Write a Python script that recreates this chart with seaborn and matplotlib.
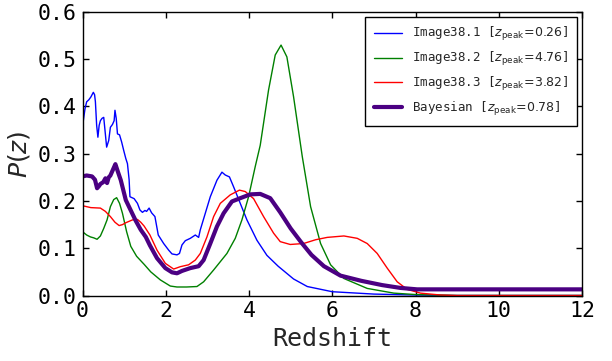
import numpy as np
import pandas as pd
import matplotlib
matplotlib.use("Agg")
import matplotlib.pyplot as plt
import seaborn as sns

# ---- data ----
z_blue = [0.00, 0.02, 0.06, 0.10, 0.15, 0.20, 0.26, 0.29, 0.31, 0.34, 0.37, 0.40, 0.43, 0.47,
          0.51, 0.54, 0.58, 0.63, 0.67, 0.72, 0.76, 0.78, 0.81, 0.84, 0.89, 0.94, 0.99, 1.04,
          1.08, 1.12, 1.14, 1.24, 1.32, 1.38, 1.44, 1.50, 1.54, 1.60, 1.66, 1.74, 1.82, 1.95,
          2.07, 2.15, 2.27, 2.33, 2.39, 2.47, 2.59, 2.71, 2.79, 2.83, 2.95, 3.07, 3.23, 3.35,
          3.43, 3.53, 3.63, 3.79, 3.95, 4.19, 4.43, 4.70, 5.07, 5.40, 6.00, 7.00, 8.00, 9.00,
          12.0]
p_blue = [0.365, 0.370, 0.395, 0.410, 0.414, 0.420, 0.430, 0.425, 0.410, 0.360, 0.335, 0.360,
          0.370, 0.375, 0.377, 0.350, 0.314, 0.328, 0.356, 0.362, 0.370, 0.392, 0.375, 0.342,
          0.340, 0.325, 0.307, 0.290, 0.279, 0.245, 0.209, 0.205, 0.195, 0.181, 0.176, 0.180,
          0.178, 0.185, 0.175, 0.167, 0.128, 0.110, 0.096, 0.088, 0.086, 0.089, 0.107, 0.116,
          0.121, 0.128, 0.123, 0.139, 0.174, 0.209, 0.244, 0.261, 0.255, 0.251, 0.230, 0.195,
          0.160, 0.117, 0.085, 0.062, 0.035, 0.019, 0.008, 0.003, 0.001, 0.0, 0.0]

z_green = [0.00, 0.10, 0.19, 0.27, 0.35, 0.43, 0.51, 0.59, 0.67, 0.75, 0.82, 0.89, 0.96, 1.06,
           1.16, 1.30, 1.48, 1.64, 1.87, 2.11, 2.27, 2.50, 2.75, 2.91, 3.15, 3.47, 3.67, 3.83,
           3.99, 4.15, 4.27, 4.47, 4.63, 4.77, 4.91, 5.07, 5.28, 5.48, 5.72, 5.96, 6.28, 6.84,
           7.48, 8.00, 9.00, 12.0]
p_green = [0.135, 0.128, 0.124, 0.122, 0.119, 0.126, 0.142, 0.160, 0.188, 0.203, 0.207, 0.195,
           0.174, 0.135, 0.104, 0.083, 0.066, 0.050, 0.033, 0.020, 0.018, 0.018, 0.019, 0.029,
           0.054, 0.089, 0.121, 0.160, 0.209, 0.273, 0.318, 0.435, 0.509, 0.530, 0.505, 0.421,
           0.294, 0.188, 0.110, 0.065, 0.036, 0.015, 0.005, 0.002, 0.0, 0.0]

z_red = [0.00, 0.20, 0.43, 0.55, 0.67, 0.78, 0.88, 0.96, 1.04, 1.20, 1.32, 1.40, 1.48, 1.62,
         1.79, 1.99, 2.19, 2.35, 2.55, 2.71, 2.83, 2.99, 3.15, 3.31, 3.55, 3.77, 3.91, 4.11,
         4.35, 4.59, 4.75, 4.99, 5.31, 5.60, 5.88, 6.28, 6.60, 6.84, 7.08, 7.32, 7.56, 7.80,
         8.12, 8.60, 9.00, 12.0]
p_red = [0.190, 0.186, 0.185, 0.178, 0.167, 0.155, 0.148, 0.150, 0.154, 0.160, 0.161, 0.155,
         0.147, 0.128, 0.096, 0.068, 0.056, 0.061, 0.065, 0.075, 0.089, 0.124, 0.167, 0.195,
         0.213, 0.223, 0.220, 0.205, 0.167, 0.132, 0.114, 0.108, 0.110, 0.118, 0.123, 0.126,
         0.121, 0.110, 0.089, 0.058, 0.029, 0.013, 0.005, 0.001, 0.0, 0.0]

z_bay = [0.00, 0.10, 0.23, 0.30, 0.35, 0.40, 0.43, 0.50, 0.55, 0.59, 0.63, 0.67, 0.74, 0.79,
         0.85, 0.92, 1.04, 1.16, 1.28, 1.40, 1.52, 1.62, 1.79, 1.99, 2.15, 2.27, 2.39, 2.59,
         2.79, 2.91, 3.07, 3.23, 3.39, 3.59, 3.79, 4.03, 4.27, 4.51, 4.75, 5.00, 5.25, 5.50,
         5.80, 6.20, 6.70, 7.20, 7.64, 8.04, 9.00, 12.0]
p_bay = [0.252, 0.254, 0.252, 0.245, 0.227, 0.232, 0.236, 0.240, 0.248, 0.238, 0.250, 0.254,
         0.268, 0.278, 0.262, 0.244, 0.202, 0.180, 0.158, 0.139, 0.124, 0.106, 0.079, 0.058,
         0.049, 0.047, 0.052, 0.058, 0.062, 0.075, 0.110, 0.146, 0.174, 0.199, 0.206, 0.214,
         0.215, 0.206, 0.176, 0.142, 0.113, 0.086, 0.062, 0.042, 0.031, 0.022, 0.016, 0.013,
         0.013, 0.013]

labels = [r"Image38.1 [$z_{\rm peak}\!=\!0.26$]",
          r"Image38.2 [$z_{\rm peak}\!=\!4.76$]",
          r"Image38.3 [$z_{\rm peak}\!=\!3.82$]",
          r"Bayesian [$z_{\rm peak}\!=\!0.78$]"]
x_ticks = [0, 2, 4, 6, 8, 10, 12]
y_ticks = [0.0, 0.1, 0.2, 0.3, 0.4, 0.5, 0.6]

# ---- style ----
sns.set_style("ticks")
plt.rcParams["font.family"] = ["DejaVu Sans Mono", "DejaVu Sans"]
plt.rcParams["mathtext.fontset"] = "dejavusans"

fig = plt.figure(figsize=(6.12, 3.61), dpi=100)
ax = fig.add_axes([82.5 / 612, 1 - 295.5 / 361, (582 - 82.5) / 612, (295.5 - 12) / 361])

series = [(z_blue, p_blue, "#0000ff", 1.0),
          (z_green, p_green, "#008000", 1.0),
          (z_red, p_red, "#ff0000", 1.0),
          (z_bay, p_bay, "#4b0082", 3.0)]
for (zz, pp, col, lw), lab in zip(series, labels):
    df = pd.DataFrame({"z": zz, "p": pp})
    sns.lineplot(data=df, x="z", y="p", color=col, linewidth=lw, label=lab, ax=ax,
                 sort=True, estimator=None, solid_joinstyle="round")

ax.set_xlim(0, 12)
ax.set_ylim(0, 0.6)
ax.set_xticks(x_ticks)
ax.set_xticklabels([str(t) for t in x_ticks])
ax.set_yticks(y_ticks)
ax.set_yticklabels([f"{t:.1f}" for t in y_ticks])
ax.tick_params(direction="in", top=True, right=True, length=4.5, width=1,
               labelsize=15.5, pad=4, colors="black")
for s in ax.spines.values():
    s.set_visible(True)
    s.set_color("black")
    s.set_linewidth(1.0)
ax.set_xlabel("Redshift", fontsize=18)
ax.set_ylabel(r"$P(z)$", fontsize=18)

leg = ax.legend(loc="upper right", fontsize=9, frameon=True, fancybox=False,
                edgecolor="black", framealpha=1, labelspacing=0.55, borderpad=0.65,
                borderaxespad=0.4, handlelength=2.3)
leg.get_frame().set_linewidth(1.0)

fig.savefig("out.png", dpi=100)
